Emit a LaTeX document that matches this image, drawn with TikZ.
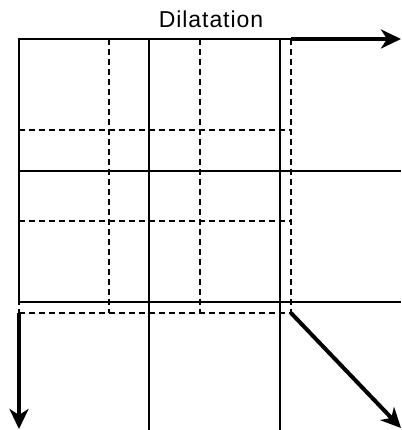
\documentclass[tikz,border=0pt]{standalone}
\usepackage{fontspec}
\setmainfont{Liberation Sans}
\newfontfamily\titlefont[LetterSpace=4]{Liberation Sans}
\usetikzlibrary{arrows.meta}

\begin{document}
\begin{tikzpicture}[
    x=1pt, y=1pt,
    cell/.style = {line width=1.7pt, draw=black},
    shifted/.style = {line width=1.2pt, draw=black, dash pattern=on 6pt off 4pt},
    push/.style = {line width=4pt, -{Stealth[length=20pt,width=19pt,inset=6pt]}},
    title/.style = {anchor=base, inner sep=0pt, font=\titlefont\fontsize{23}{27}\selectfont}
  ]
\useasboundingbox (0,0) rectangle (401,430);

% dashed grid (before)
\foreach \x in {19,109,200,291}
  \draw[shifted] (\x,391) -- (\x,117);
\foreach \y in {300,209,117}
  \draw[shifted] (19,\y) -- (291,\y);

% solid grid (after)
\draw[cell] (19,128) -- (19,391) -- (292,391);
\foreach \x in {149,280}
  \draw[cell] (\x,391) -- (\x,0);
\foreach \y in {259,128}
  \draw[cell] (19,\y) -- (401,\y);

\coordinate (topstart) at (291,391);
\coordinate (topend) at (401,391);
\coordinate (leftstart) at (19,117);
\coordinate (leftend) at (19,1);
\coordinate (diagstart) at (291,117);
\coordinate (diagend) at (401,2);

\draw[push] (topstart) -- (topend);
\draw[push] (leftstart) -- (leftend);
\draw[push] (diagstart) -- (diagend);

\node[title] (dil) at (211,402) {Dilatation};
\end{tikzpicture}
\end{document}
